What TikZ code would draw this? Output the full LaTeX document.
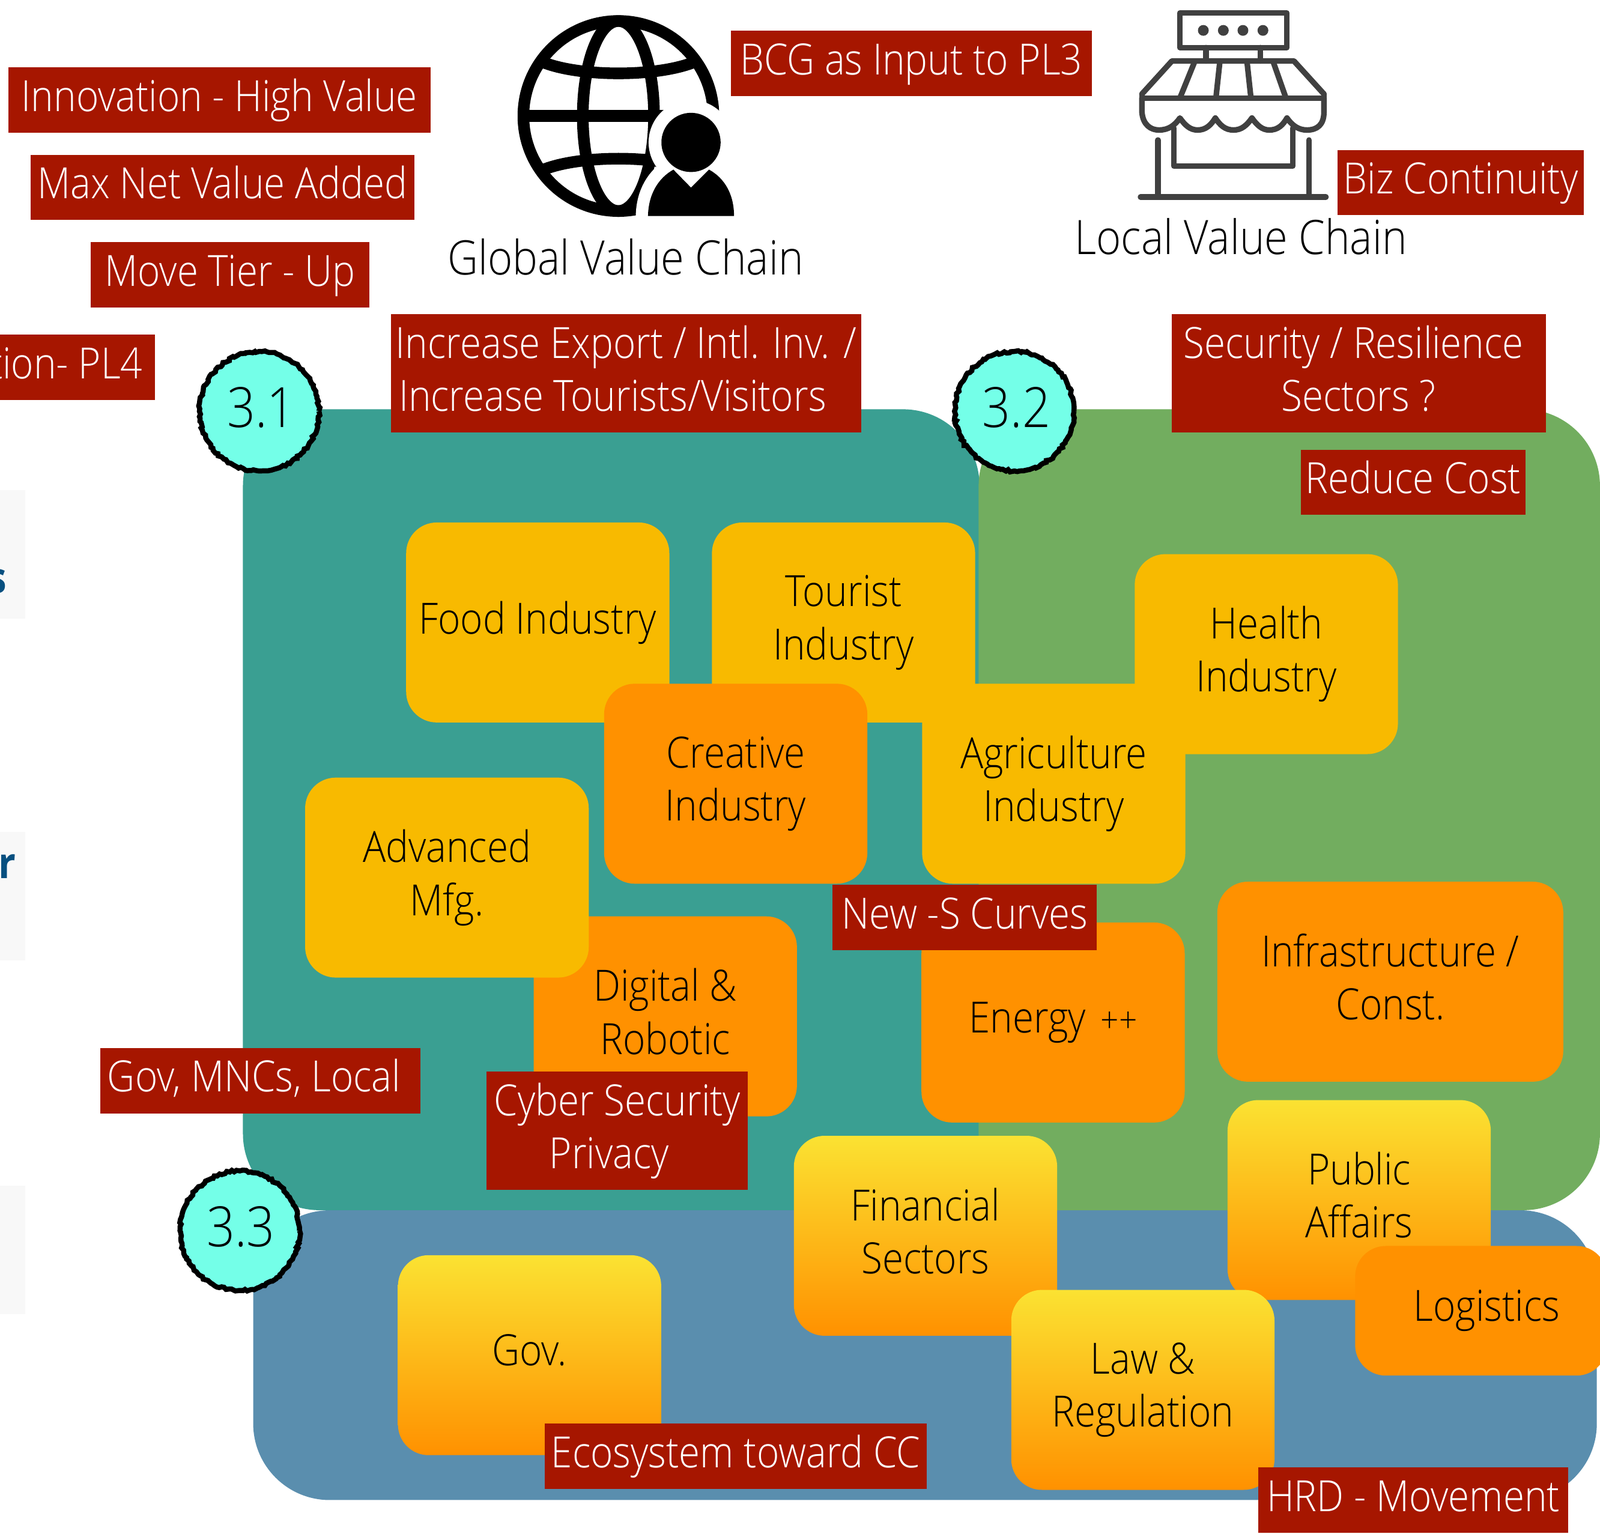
\documentclass[tikz,border=0pt]{standalone}
\usepackage{fontspec}
\setmainfont{Open Sans}[UprightFont=* Light,BoldFont=* Bold,FakeStretch=0.89]
\usetikzlibrary{positioning,decorations.pathmorphing}

\definecolor{panelteal}{RGB}{58,159,146}
\definecolor{panelgreen}{RGB}{114,173,95}
\definecolor{panelblue}{RGB}{90,142,174}
\definecolor{tagred}{RGB}{166,22,0}
\definecolor{boxamber}{RGB}{248,186,0}
\definecolor{boxorange}{RGB}{255,145,0}
\definecolor{boxyellow}{RGB}{251,226,50}
\definecolor{badgecyan}{RGB}{116,255,232}
\definecolor{shopgrey}{RGB}{64,64,64}
\definecolor{paleside}{RGB}{248,248,248}
\definecolor{sideblue}{RGB}{8,80,128}

\begin{document}
\begin{tikzpicture}[
    x=0.02cm, y=-0.02cm,
    panel/.style={rectangle, rounded corners=1.5cm, inner sep=0pt, minimum height=15.7cm},
    sector/.style={rectangle, rounded corners=0.6cm, align=center, inner sep=0pt, minimum width=5.16cm, minimum height=3.92cm, text depth=0.2cm, font=\fontsize{24}{29.6}\selectfont},
    amber/.style={sector, fill=boxamber},
    orange/.style={sector, fill=boxorange},
    gradbox/.style={sector, top color=boxyellow, middle color=boxyellow!55!boxorange, bottom color=boxorange},
    tag/.style={rectangle, fill=tagred, text=white, inner sep=0pt, minimum height=1.28cm, text height=0.86cm, text depth=0.42cm, font=\fontsize{24}{29.6}\selectfont},
    tagtwo/.style={rectangle, fill=tagred, text=white, inner sep=0pt, minimum height=2.32cm, text depth=0.2cm, font=\fontsize{24}{29.6}\selectfont},
    badge/.style={circle, draw=black, fill=badgecyan, line width=0.1cm, minimum size=2.34cm, inner sep=0pt, text depth=0.16cm, decorate, decoration={random steps, segment length=1.4pt, amplitude=0.6pt}, font=\fontsize{31}{34}\selectfont},
    chainlabel/.style={font=\fontsize{26.5}{32}\selectfont, inner sep=0pt},
    sidebox/.style={rectangle, fill=paleside, inner sep=0pt, minimum width=1cm, minimum height=2.52cm},
    globeline/.style={line width=0.228cm, black},
    shopline/.style={line width=0.11cm, shopgrey, line join=round, line cap=round}
]
\useasboundingbox (0,0) rectangle (1568,1503);
\clip (0,0) rectangle (1568,1503);

% Left edge
\node[sidebox] (side1) at (0,543) {};
\node[sidebox] (side2) at (0,878) {};
\node[sidebox] (side3) at (0,1225) {};
\node[anchor=base east, inner sep=0pt, text=sideblue, font=\fontsize{24}{24}\selectfont\bfseries] (sides) at (7,581) {s};
\node[anchor=base east, inner sep=0pt, text=sideblue, font=\fontsize{24}{24}\selectfont\bfseries] (sider) at (16,861) {r};

% Panels
\node[panel, fill=panelteal, minimum width=14.44cm] (teal) at (599,793.5) {};
\node[panel, fill=panelgreen, minimum width=12.18cm] (green) at (1263.5,793.5) {};
\node[panel, fill=panelblue, minimum width=26.34cm, minimum height=5.68cm] (blue) at (906.5,1328) {};

% Globe icon
\begin{scope}[x=0.003924cm, y=-0.003924cm, shift={(9.182cm,0cm)}]
\draw[globeline] (750,580) circle[radius=475];
\draw[globeline] (750,580) ellipse[x radius=178, y radius=475];
\draw[globeline] (275,580) -- (1225,580);
\draw[globeline] (375,312) .. controls (560,385) and (940,385) .. (1125,312);
\draw[globeline] (375,848) .. controls (560,775) and (940,775) .. (1125,848);
\fill[white] (1113,712) circle[radius=212];
\draw[white, line width=0.48cm, line join=round] (898,1080) .. controls (900,970) and (950,890) .. (1025,848) -- (1113,938) -- (1203,848) .. controls (1280,890) and (1328,970) .. (1328,1080) -- cycle;
\fill[white] (836,1080) rectangle (1390,1110);
\fill[black] (898,1080) .. controls (900,970) and (950,890) .. (1025,848) -- (1113,938) -- (1203,848) .. controls (1280,890) and (1328,970) .. (1328,1080) -- cycle;
\fill[black] (1113,712) circle[radius=148];
\end{scope}

% Shop icon
\begin{scope}[x=0.003924cm, y=-0.003924cm, shift={(21.778cm,0cm)}]
\draw[shopline] (345,65) rectangle (880,238);
\foreach \dotx in {462,562,660,760} {
    \fill[shopgrey] (\dotx,152) circle[radius=27];
}
\draw[shopline] (475,238) -- (475,305);
\draw[shopline] (748,238) -- (748,305);
\draw[shopline] (155,470) -- (305,305) -- (915,305) -- (1065,470);
\draw[shopline] (420,305) -- (345,490);
\draw[shopline] (545,305) -- (525,490);
\draw[shopline] (680,305) -- (700,490);
\draw[shopline] (810,305) -- (875,490);
\draw[shopline] (155,470) -- (155,490) -- (1065,490) -- (1065,470);
\draw[shopline] (155,490) -- (155,560) .. controls (160,625) and (200,650) .. (240,650) .. controls (290,650) and (320,625) .. (345,590) .. controls (370,625) and (395,650) .. (433,650) .. controls (475,650) and (500,625) .. (522,590) .. controls (545,625) and (570,650) .. (613,650) .. controls (655,650) and (680,625) .. (705,590) .. controls (730,625) and (755,650) .. (792,650) .. controls (835,650) and (860,625) .. (880,590) .. controls (905,625) and (935,650) .. (980,650) .. controls (1030,650) and (1065,625) .. (1065,560) -- (1065,490);
\draw[shopline] (315,640) -- (315,830) -- (910,830) -- (910,640);
\draw[shopline] (235,700) -- (235,985);
\draw[shopline] (990,700) -- (990,985);
\draw[shopline] (148,985) -- (1075,985);
\end{scope}

% Chain labels
\node[chainlabel, anchor=base] (globalchain) at (613,269) {Global Value Chain};
\node[chainlabel, anchor=base] (localchain) at (1216,249) {Local Value Chain};

% Sectors, first layer
\node[amber] (food) at (527,610) {Food Industry};
\node[amber, right=0.82cm of food] (tourist) {Tourist\\Industry};
\node[amber] (health) at (1241,641) {Health\\Industry};
\node[orange] (creative) at (721,768) {Creative\\Industry};
\node[amber, right=1.06cm of creative] (agri) {Agriculture\\Industry};
\node[orange] (digital) at (652,996) {Digital \&\\Robotic};
\node[amber, minimum width=5.56cm] (advanced) at (438,860) {Advanced\\Mfg.};
\node[orange] (energy) at (1032,1002) {Energy\hspace{0.1cm} {\fontsize{20}{20}\selectfont ++}};
\node[orange, minimum width=6.78cm] (infra) at (1362.5,962) {Infrastructure /\\Const.};

% Sectors, lower layer
\node[gradbox] (financial) at (907,1211) {Financial\\Sectors};
\node[gradbox] (public) at (1332,1176) {Public\\Affairs};
\node[orange, minimum width=4.94cm, minimum height=2.54cm] (logistics) at (1451.5,1284.5) {\hspace*{0.22cm}Logistics};
\node[gradbox] (gov) at (519,1328) {Gov.};
\node[gradbox] (law) at (1120,1362) {Law \&\\Regulation};

% Badges
\node[badge] (badge1) at (254,403) {\hspace*{0.08cm}3.1};
\node[badge] (badge2) at (994,403) {\hspace*{0.08cm}3.2};
\node[badge] (badge3) at (235,1206) {\hspace*{0.04cm}3.3};

% Red tags, top left
\node[tag, minimum width=8.28cm] (innovation) at (215,98) {Innovation - High Value};
\node[tag, minimum width=7.52cm, below=0.42cm of innovation, xshift=0.06cm] (maxnet) {Max Net Value Added};
\node[tag, minimum width=5.46cm, below=0.42cm of maxnet, xshift=0.15cm] (movetier) {Move Tier - Up};
\node[tag, anchor=east, inner xsep=0.24cm] (pl4) at (152,360) {tion- PL4};

% Red tags, top
\node[tag, minimum width=7.08cm] (bcg) at (893,62) {BCG as Input to PL3};
\node[tag, minimum width=4.82cm] (biz) at (1431.5,179) {Biz Continuity};
\node[tagtwo, minimum width=9.22cm, align=left] (export) at (613.5,366) {Increase Export / Intl. Inv. /\\\hspace*{0.06cm}Increase Tourists/Visitors};
\node[tagtwo, minimum width=7.34cm, align=center] (security) at (1331.5,366) {Security / Resilience\hspace*{0.2cm}\\Sectors ?};
\node[tag, minimum width=4.4cm, below=0.32cm of security, xshift=1.07cm] (reduce) {Reduce Cost};

% Red tags, over sectors
\node[tag, minimum width=5.18cm] (scurves) at (945.5,899) {New -S Curves};
\node[tag, minimum width=6.28cm] (players) at (255,1059) {Gov, MNCs, Local\hspace*{0.24cm}};
\node[tagtwo, minimum width=5.12cm, align=center] (cyber) at (605,1108) {Cyber Security\\Privacy\hspace*{0.32cm}};
\node[tag, minimum width=7.48cm] (ecosystem) at (721,1427) {Ecosystem toward CC};
\node[tag, minimum width=6.08cm] (hrd) at (1385,1470) {HRD - Movement};

\end{tikzpicture}
\end{document}
